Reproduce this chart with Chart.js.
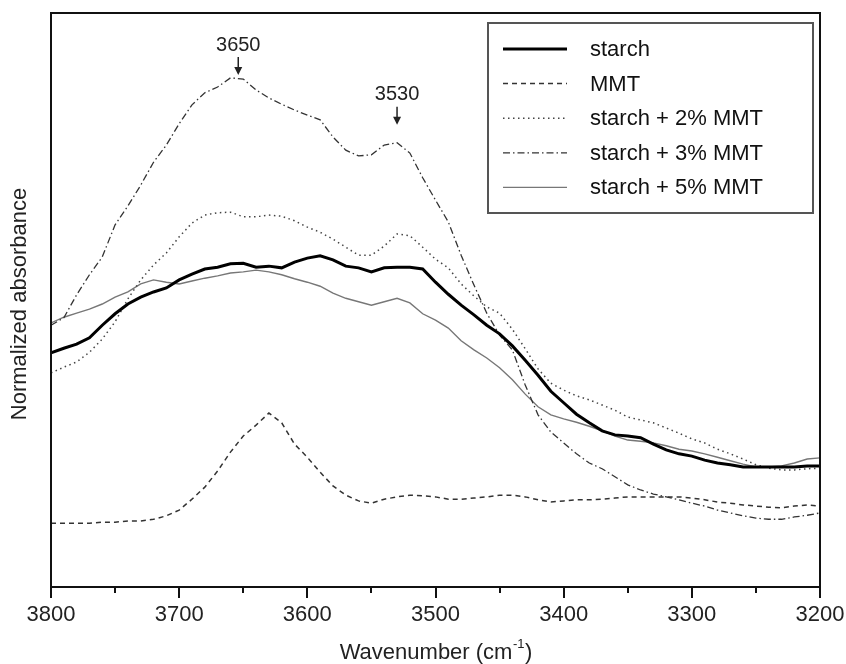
<!DOCTYPE html>
<html>
<head>
<meta charset="utf-8">
<script src="https://cdn.jsdelivr.net/npm/chart.js@4.4.1/dist/chart.umd.min.js"></script>
<style>
  html, body { margin: 0; padding: 0; background: #fff; }
  #wrap { width: 846px; height: 664px; }
</style>
</head>
<body>
<div id="wrap"><canvas id="c" width="846" height="664"></canvas></div>
<script>
// Wavenumber grid (cm^-1)
const wavenumbers = [3800,3790,3780,3770,3760,3750,3740,3730,3720,3710,3700,3690,3680,3670,3660,3650,3640,3630,3620,3610,3600,3590,3580,3570,3560,3550,3540,3530,3520,3510,3500,3490,3480,3470,3460,3450,3440,3430,3420,3410,3400,3390,3380,3370,3360,3350,3340,3330,3320,3310,3300,3290,3280,3270,3260,3250,3240,3230,3220,3210,3200];

// Normalized absorbance (arbitrary units, 0-100)
const starch = [40.8,41.6,42.3,43.4,45.6,47.6,49.3,50.5,51.4,52.1,53.5,54.5,55.4,55.7,56.3,56.4,55.7,55.9,55.6,56.6,57.3,57.7,57.0,55.9,55.6,54.9,55.6,55.7,55.7,55.4,53.1,51.0,49.1,47.4,45.6,44.1,42.0,39.5,36.9,34.1,32.1,30.1,28.6,27.2,26.5,26.3,26.0,24.9,23.9,23.2,22.8,22.1,21.6,21.3,20.9,20.9,20.9,20.9,20.9,21.1,21.1];
const mmt = [11.1,11.1,11.1,11.1,11.3,11.3,11.5,11.5,11.8,12.4,13.4,15.3,17.4,20.2,23.5,26.3,28.2,30.3,28.6,24.9,22.6,20.0,17.6,16.0,15.0,14.6,15.3,15.7,16.0,15.9,15.7,15.3,15.3,15.5,15.7,16.0,16.0,15.7,15.2,14.8,15.0,15.2,15.2,15.3,15.5,15.7,15.7,15.7,15.7,15.7,15.5,15.2,14.8,14.6,14.3,14.1,13.9,13.8,14.1,14.3,14.1];
const starch2 = [37.3,38.3,39.2,40.9,43.2,46.2,50.2,53.5,56.1,58.2,61.0,63.4,64.8,65.2,65.3,64.5,64.5,64.8,64.6,63.8,62.7,61.8,60.6,59.2,57.8,57.8,59.4,61.5,61.2,59.2,57.1,55.6,52.8,50.7,48.8,47.7,44.9,41.5,38.0,35.5,34.3,33.3,32.6,31.7,30.8,29.6,29.1,28.6,27.7,26.8,25.8,25.1,24.0,23.2,22.3,21.3,20.7,20.4,20.4,20.6,20.7];
const starch3 = [45.6,46.9,50.9,54.4,57.5,63.1,66.4,70.0,74.0,77.0,80.7,84.0,86.1,87.1,88.7,88.5,86.6,85.2,84.1,83.1,82.2,81.4,78.4,76.1,75.1,75.3,77.0,77.4,75.6,71.3,67.4,63.6,57.8,52.6,47.7,43.9,41.3,35.2,30.0,27.0,25.1,23.2,21.6,20.6,19.2,17.8,16.9,16.2,15.7,15.2,14.6,14.1,13.4,12.9,12.4,12.0,11.8,11.8,12.2,12.5,12.9];
const starch5 = [46.0,47.0,47.7,48.4,49.3,50.5,51.4,52.8,53.5,53.1,52.8,53.3,53.8,54.2,54.7,54.9,55.2,54.9,54.4,53.7,53.1,52.4,51.2,50.3,49.7,49.1,49.7,50.3,49.5,47.6,46.5,45.1,42.9,41.3,39.9,38.2,36.1,33.6,31.4,30.0,29.3,28.7,28.0,27.2,26.3,25.6,25.4,25.1,24.6,24.0,23.7,23.2,22.6,22.0,21.4,20.9,20.9,21.1,21.6,22.3,22.5];

const seriesNames = ["starch", "MMT", "starch + 2% MMT", "starch + 3% MMT", "starch + 5% MMT"];
const xTickValues = [3800,3700,3600,3500,3400,3300,3200];
const peakLabels = [3650, 3530];
const xTitle = "Wavenumber (cm";
const yTitle = "Normalized absorbance";

const FONT = '"Liberation Sans", Arial, sans-serif';
// annotation placement (pixels): horizontal nudge and extra vertical gap
const annotDx = [-5, 0];
const annotGap = [0, 14];

function pts(arr) { return wavenumbers.map((w, i) => ({ x: w, y: arr[i] })); }

const styles = [
  { borderColor: '#000000', borderWidth: 3, borderDash: [] },
  { borderColor: '#333333', borderWidth: 1.5, borderDash: [5, 4] },
  { borderColor: '#444444', borderWidth: 1.5, borderDash: [1.5, 3.5] },
  { borderColor: '#333333', borderWidth: 1.3, borderDash: [7, 3, 1.5, 3] },
  { borderColor: '#777777', borderWidth: 1.4, borderDash: [] }
];
const seriesData = [starch, mmt, starch2, starch3, starch5];

const datasets = seriesData.map((d, i) => ({
  label: seriesNames[i],
  data: pts(d),
  borderColor: styles[i].borderColor,
  borderWidth: styles[i].borderWidth,
  borderDash: styles[i].borderDash,
  pointRadius: 0,
  tension: 0,
  fill: false
}));

const decorPlugin = {
  id: 'decor',
  afterDraw(chart) {
    const ctx = chart.ctx;
    const a = chart.chartArea;
    const xs = chart.scales.x;
    const ys = chart.scales.y;
    ctx.save();
    // frame
    ctx.strokeStyle = '#111';
    ctx.lineWidth = 2;
    ctx.strokeRect(a.left, a.top, a.right - a.left, a.bottom - a.top);
    // ticks
    ctx.lineWidth = 2;
    ctx.strokeStyle = '#111';
    for (let v = 3200; v <= 3800; v += 50) {
      const px = Math.round(xs.getPixelForValue(v));
      const major = v % 100 === 0;
      ctx.beginPath();
      ctx.moveTo(px, a.bottom);
      ctx.lineTo(px, a.bottom + (major ? 11 : 6));
      ctx.stroke();
    }
    // x title with superscript
    ctx.fillStyle = '#222';
    ctx.font = '22px ' + FONT;
    ctx.textBaseline = 'alphabetic';
    const w1 = ctx.measureText(xTitle).width;
    ctx.font = '13px ' + FONT;
    const w2 = ctx.measureText('-1').width;
    ctx.font = '22px ' + FONT;
    const w3 = ctx.measureText(')').width;
    const cx = (a.left + a.right) / 2;
    let tx = cx - (w1 + w2 + w3) / 2;
    const ty = 659;
    ctx.textAlign = 'left';
    ctx.fillText(xTitle, tx, ty);
    ctx.font = '13px ' + FONT;
    ctx.fillText('-1', tx + w1 + 0.5, ty - 11);
    ctx.font = '22px ' + FONT;
    ctx.fillText(')', tx + w1 + w2 + 1, ty);
    // y title
    ctx.save();
    ctx.translate(20, (a.top + a.bottom) / 2 + 4);
    ctx.rotate(-Math.PI / 2);
    ctx.textAlign = 'center';
    ctx.textBaseline = 'middle';
    ctx.fillText(yTitle, 0, 0);
    ctx.restore();
    // peak annotations
    const peakSeries = starch3;
    peakLabels.forEach((p, k) => {
      const px = xs.getPixelForValue(p) + annotDx[k];
      const i = wavenumbers.indexOf(p);
      const py = ys.getPixelForValue(peakSeries[i]) - annotGap[k];
      ctx.textAlign = 'center';
      ctx.textBaseline = 'middle';
      ctx.fillStyle = '#222';
      ctx.font = '20px ' + FONT;
      ctx.fillText(String(p), px, py - 34);
      ctx.strokeStyle = '#222';
      ctx.lineWidth = 1.5;
      ctx.beginPath();
      ctx.moveTo(px, py - 22);
      ctx.lineTo(px, py - 6);
      ctx.stroke();
      ctx.beginPath();
      ctx.moveTo(px - 4, py - 12);
      ctx.lineTo(px, py - 4);
      ctx.lineTo(px + 4, py - 12);
      ctx.closePath();
      ctx.fillStyle = '#222';
      ctx.fill();
    });
    // legend
    ctx.strokeStyle = '#555';
    ctx.lineWidth = 2;
    ctx.strokeRect(488, 23, 325, 190);
    chart.data.datasets.forEach((ds, i) => {
      const y = 49 + i * 34.6;
      ctx.strokeStyle = ds.borderColor;
      ctx.lineWidth = ds.borderWidth;
      ctx.setLineDash(ds.borderDash);
      ctx.beginPath();
      ctx.moveTo(503, y);
      ctx.lineTo(567, y);
      ctx.stroke();
      ctx.setLineDash([]);
      ctx.fillStyle = '#111';
      ctx.font = '22px ' + FONT;
      ctx.textAlign = 'left';
      ctx.textBaseline = 'middle';
      ctx.fillText(ds.label, 590, y + 1);
    });
    ctx.restore();
  }
};

new Chart(document.getElementById('c'), {
  type: 'line',
  data: { datasets },
  plugins: [decorPlugin],
  options: {
    responsive: false,
    animation: false,
    layout: { padding: { top: 13, right: 26, left: 0, bottom: 0 } },
    plugins: { legend: { display: false }, tooltip: { enabled: false } },
    scales: {
      x: {
        type: 'linear',
        reverse: true,
        min: 3200,
        max: 3800,
        grid: { display: false, drawTicks: false },
        border: { display: false },
        afterBuildTicks(scale) {
          scale.ticks = xTickValues.map(v => ({ value: v }));
        },
        afterFit(scale) {
          scale.height = 77;
          scale.paddingLeft = 0;
          scale.paddingRight = 0;
        },
        ticks: {
          autoSkip: false,
          maxRotation: 0,
          padding: 15,
          color: '#222',
          font: { family: FONT, size: 22 },
          callback: (v) => String(v)
        }
      },
      y: {
        min: 0,
        max: 100,
        grid: { display: false, drawTicks: false },
        border: { display: false },
        ticks: { display: false },
        afterFit(scale) { scale.width = 51; }
      }
    }
  }
});
</script>
</body>
</html>
